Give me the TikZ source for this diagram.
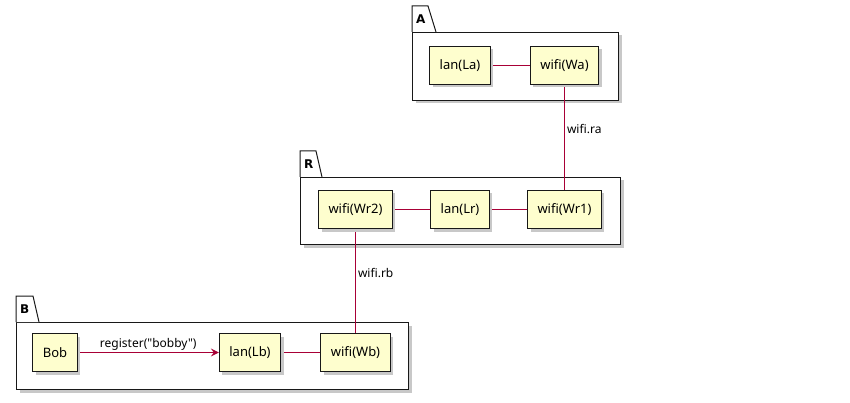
\documentclass[tikz,border=0pt]{standalone}
\usepackage{fontspec}
\setmainfont{Noto Sans}
\newfontfamily\plainfont{Noto Sans}
\newfontfamily\titlefont{DejaVu Sans Bold}
\usepackage{xcolor}
\usetikzlibrary{positioning, arrows.meta, calc}
\definecolor{cfill}{HTML}{FEFECE}
\definecolor{cline}{HTML}{A80036}
\definecolor{cborder}{HTML}{181818}
\definecolor{cshadow}{HTML}{C8C8C8}
\pgfdeclarelayer{pkgs}
\pgfdeclarelayer{edges}
\pgfsetlayers{pkgs,edges,main}

\begin{document}
\begin{tikzpicture}[x=1pt, y=-1pt,
    shade/.style={preaction={fill=cshadow, draw=none, transform canvas={shift={(3pt,-3pt)}}}},
    comp/.style={shade, draw=cborder, line width=1pt, fill=cfill, minimum height=38pt, inner xsep=10pt,
      font=\plainfont\fontsize{13}{15}\selectfont},
    pkg/.style={shade, draw=cborder, line width=1pt, fill=white, anchor=north west, inner sep=0pt},
    tab/.style={draw=cborder, line width=1pt, fill=white},
    title/.style={font=\titlefont\fontsize{12}{14}\selectfont, anchor=west, inner sep=0pt},
    link/.style={draw=cline, line width=1.1pt},
    lbl/.style={font=\plainfont\fontsize{12}{14}\selectfont, text=black, inner sep=2pt}]
  \useasboundingbox (0,0) rectangle (850,403);

  % packages
  \begin{pgfonlayer}{pkgs}
    \node[pkg, minimum width=206pt, minimum height=68pt] (pA) at (412,32) {};
    \draw[tab] (pA.north west) -- ++(0,-26) -- ++(16,0) -- ++(8,26);
    \node[title] (tA) at (416,19) {A};

    \node[pkg, minimum width=320pt, minimum height=67pt] (pR) at (300,177) {};
    \draw[tab] (pR.north west) -- ++(0,-26) -- ++(16,0) -- ++(6,26);
    \node[title] (tR) at (304,164) {R};

    \node[pkg, minimum width=392pt, minimum height=67pt] (pB) at (16,322) {};
    \draw[tab] (pB.north west) -- ++(0,-26) -- ++(17,0) -- ++(6,26);
    \node[title] (tB) at (20,309) {B};
  \end{pgfonlayer}

  % components
  \node[comp] (La) at (460,65.5) {lan(La)};
  \node[comp] (Wa) at (564.5,65.5) {wifi(Wa)};

  \node[comp] (Wr2) at (355.5,209.5) {wifi(Wr2)};
  \node[comp] (Lr) at (460,209.5) {lan(Lr)};
  \node[comp] (Wr1) at (564.5,209.5) {wifi(Wr1)};

  \node[comp] (Bob) at (55,352.5) {Bob};
  \node[comp] (Lb) at (250,352.5) {lan(Lb)};
  \node[comp] (Wb) at (355.5,352.5) {wifi(Wb)};

  % links
  \begin{pgfonlayer}{edges}
    \draw[link] (La) -- (Wa);
    \draw[link] (Wa) -- node[lbl, pos=0.42, anchor=west] {wifi.ra} (Wr1);
    \draw[link] (Wr2) -- (Lr);
    \draw[link] (Lr) -- (Wr1);
    \draw[link] (Wr2) -- node[lbl, pos=0.42, anchor=west] {wifi.rb} (Wb);
    \draw[link, -{Stealth[length=8pt, width=8pt, inset=3pt]}] (Bob) -- node[lbl, above] {register("bobby")} (Lb);
    \draw[link] (Lb) -- (Wb);
  \end{pgfonlayer}
\end{tikzpicture}
\end{document}
